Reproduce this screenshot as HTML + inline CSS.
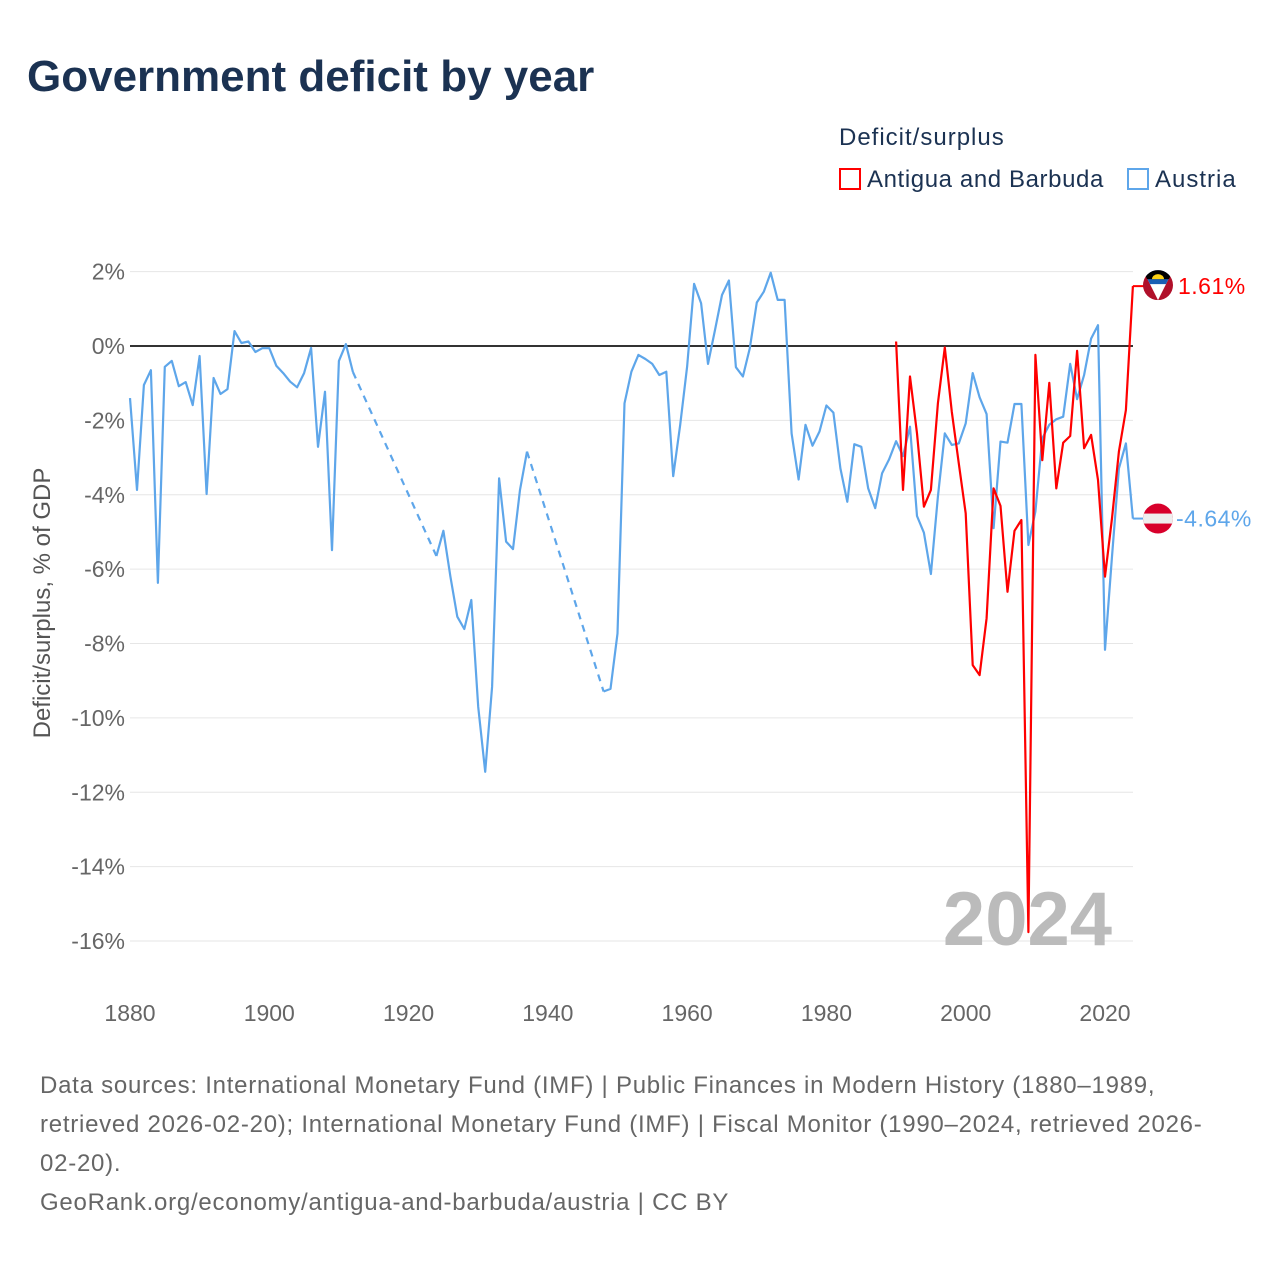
<!DOCTYPE html>
<html><head><meta charset="utf-8">
<style>
body{margin:0;background:#fff;font-family:"Liberation Sans",sans-serif;}
#wrap{position:relative;width:1280px;height:1280px;overflow:hidden;}
.t{position:absolute;white-space:nowrap;}
</style></head>
<body>
<div id="wrap">
<div class="t" style="left:27px;top:52px;font-size:44px;font-weight:bold;color:#1b3252;">Government deficit by year</div>
<div class="t" style="left:839px;top:124px;font-size:24px;color:#1b3252;letter-spacing:1px;">Deficit/surplus</div>
<div class="t" style="left:839px;top:166px;font-size:24px;color:#1b3252;letter-spacing:0.6px;"><span style="display:inline-block;width:22px;height:22px;border:2px solid #f00;box-sizing:border-box;vertical-align:-3px;margin-right:6px;"></span>Antigua and Barbuda</div>
<div class="t" style="left:1127px;top:166px;font-size:24px;color:#1b3252;letter-spacing:1px;"><span style="display:inline-block;width:22px;height:22px;border:2px solid #5ea6ea;box-sizing:border-box;vertical-align:-3px;margin-right:6px;"></span>Austria</div>
<svg id="chart" width="1280" height="1280" style="position:absolute;left:0;top:0;" xmlns="http://www.w3.org/2000/svg"></svg>
<div class="t" style="left:40px;top:1066px;font-size:24px;line-height:39px;color:#666;letter-spacing:0.75px;">Data sources: International Monetary Fund (IMF) | Public Finances in Modern History (1880–1989,<br>retrieved 2026-02-20); International Monetary Fund (IMF) | Fiscal Monitor (1990–2024, retrieved 2026-<br>02-20).<br>GeoRank.org/economy/antigua-and-barbuda/austria | CC BY</div>
</div>
<script>
const yTicks=[2,0,-2,-4,-6,-8,-10,-12,-14,-16];
const xTicks=[1880,1900,1920,1940,1960,1980,2000,2020];
const austriaYears1=[1880,1881,1882,1883,1884,1885,1886,1887,1888,1889,1890,1891,1892,1893,1894,1895,1896,1897,1898,1899,1900,1901,1902,1903,1904,1905,1906,1907,1908,1909,1910,1911,1912];
const austriaVals1=[-1.4,-3.87,-1.05,-0.65,-6.37,-0.56,-0.4,-1.08,-0.97,-1.59,-0.27,-3.98,-0.86,-1.29,-1.16,0.4,0.08,0.12,-0.16,-0.06,-0.06,-0.53,-0.73,-0.96,-1.11,-0.73,-0.05,-2.71,-1.23,-5.49,-0.4,0.05,-0.7];
const austriaYears2=[1924,1925,1926,1927,1928,1929,1930,1931,1932,1933,1934,1935,1936,1937];
const austriaVals2=[-5.65,-4.97,-6.2,-7.28,-7.61,-6.83,-9.7,-11.45,-9.16,-3.56,-5.26,-5.46,-3.87,-2.84];
const austriaYears3=[1948,1949,1950,1951,1952,1953,1954,1955,1956,1957,1958,1959,1960,1961,1962,1963,1964,1965,1966,1967,1968,1969,1970,1971,1972,1973,1974,1975,1976,1977,1978,1979,1980,1981,1982,1983,1984,1985,1986,1987,1988,1989,1990,1991,1992,1993,1994,1995,1996,1997,1998,1999,2000,2001,2002,2003,2004,2005,2006,2007,2008,2009,2010,2011,2012,2013,2014,2015,2016,2017,2018,2019,2020,2021,2022,2023,2024];
const austriaVals3=[-9.29,-9.22,-7.73,-1.54,-0.69,-0.24,-0.35,-0.48,-0.78,-0.69,-3.5,-2.12,-0.56,1.67,1.15,-0.48,0.43,1.37,1.76,-0.57,-0.82,-0.06,1.17,1.46,1.97,1.24,1.24,-2.35,-3.59,-2.12,-2.68,-2.3,-1.6,-1.79,-3.29,-4.19,-2.64,-2.71,-3.83,-4.36,-3.42,-3.05,-2.56,-2.96,-2.17,-4.57,-5.02,-6.13,-4.05,-2.35,-2.66,-2.62,-2.08,-0.73,-1.38,-1.83,-4.9,-2.57,-2.6,-1.56,-1.56,-5.35,-4.45,-2.48,-2.12,-1.97,-1.9,-0.48,-1.43,-0.78,0.2,0.56,-8.17,-5.66,-3.29,-2.62,-4.64];
const antiguaYears=[1990,1991,1992,1993,1994,1995,1996,1997,1998,1999,2000,2001,2002,2003,2004,2005,2006,2007,2008,2009,2010,2011,2012,2013,2014,2015,2016,2017,2018,2019,2020,2021,2022,2023,2024];
const antiguaVals=[0.12,-3.87,-0.82,-2.35,-4.32,-3.87,-1.54,-0.04,-1.77,-3.16,-4.5,-8.58,-8.85,-7.32,-3.83,-4.3,-6.61,-4.97,-4.68,-15.76,-0.24,-3.07,-0.99,-3.83,-2.6,-2.42,-0.13,-2.75,-2.39,-3.6,-6.2,-4.63,-2.84,-1.72,1.61];

const NS="http://www.w3.org/2000/svg";
const svg=document.getElementById('chart');
const X0=130,X1=1133;
function xs(yr){return 130+(yr-1880)*(1105-130)/140;}
function ys(v){return 346-v*37.19;}
function mk(tag,attrs){const e=document.createElementNS(NS,tag);for(const k in attrs)e.setAttribute(k,attrs[k]);svg.appendChild(e);return e;}

yTicks.forEach(t=>{
  const g=mk('line',{x1:X0,x2:X1,y1:ys(t),y2:ys(t),stroke:'#e6e6e6','stroke-width':1});
  
  
  const lb=mk('text',{x:125,y:ys(t)+8,'text-anchor':'end','font-size':23,fill:'#666','font-family':'Liberation Sans, sans-serif'});
  lb.textContent=t+'%';
  
  
});
xTicks.forEach(t=>{
  const lb=mk('text',{x:xs(t),y:1021,'text-anchor':'middle','font-size':23,fill:'#666','font-family':'Liberation Sans, sans-serif'});
  lb.textContent=t;
  
  
});
const zl=mk('line',{x1:X0,x2:X1,y1:ys(0),y2:ys(0),stroke:'#333','stroke-width':2});



const yt=mk('text',{x:0,y:0,transform:'translate(50,603) rotate(-90)','text-anchor':'middle','font-size':24,fill:'#555','font-family':'Liberation Sans, sans-serif'});
yt.textContent='Deficit/surplus, % of GDP';



const wm=mk('text',{x:1112,y:945,'text-anchor':'end','font-size':76,'font-weight':'bold',fill:'#bbb','font-family':'Liberation Sans, sans-serif'});
wm.textContent='2024';



function pts(yrs,vals){return yrs.map((y,i)=>xs(y).toFixed(1)+','+ys(vals[i]).toFixed(1));}
function line(yrs,vals,color,name,dash){
  const p=mk('polyline',{points:pts(yrs,vals).join(' '),fill:'none',stroke:color,'stroke-width':2.2,'stroke-linejoin':'round'});
  if(dash)p.setAttribute('stroke-dasharray','7,6');
  
  
}
const blue='#5ea6ea';
line(austriaYears1,austriaVals1,blue,'austria-line');
line([austriaYears1[austriaYears1.length-1],austriaYears2[0]],[austriaVals1[austriaVals1.length-1],austriaVals2[0]],blue,'austria-gap-dashed',true);
line(austriaYears2,austriaVals2,blue,'austria-line');
line([austriaYears2[austriaYears2.length-1],austriaYears3[0]],[austriaVals2[austriaVals2.length-1],austriaVals3[0]],blue,'austria-gap-dashed',true);
line(austriaYears3,austriaVals3,blue,'austria-line');
line(antiguaYears,antiguaVals,'#ff0000','antigua-line');

const aLast=antiguaVals[antiguaVals.length-1], oLast=austriaVals3[austriaVals3.length-1];
const lastX=xs(2024);
let e;
e=mk('line',{x1:lastX,x2:1145,y1:ys(aLast),y2:ys(aLast),stroke:'#f00','stroke-width':2});


e=mk('line',{x1:lastX,x2:1145,y1:ys(oLast),y2:ys(oLast),stroke:blue,'stroke-width':2});



const ay=ys(aLast)-1;
const g1=document.createElementNS(NS,'g');svg.appendChild(g1);


g1.innerHTML=`<defs><clipPath id="c1"><circle cx="1158" cy="${ay}" r="15"/></clipPath><clipPath id="c2"><circle cx="1158" cy="${ys(oLast)}" r="15"/></clipPath></defs>
<g clip-path="url(#c1)"><rect x="1143" y="${ay-15}" width="30" height="30" fill="#b0102a"/>
<polygon points="1143,${ay-15} 1173,${ay-15} 1158,${ay+15}" fill="#fff"/>
<polygon points="1143,${ay-15} 1173,${ay-15} 1166,${ay-1} 1150,${ay-1}" fill="#1a5fb4"/>
<polygon points="1143,${ay-15} 1173,${ay-15} 1169,${ay-6} 1147,${ay-6}" fill="#000"/>
<path d="M1152,${ay-6} a6,5 0 0 1 12,0 z" fill="#fcd116"/></g>`;
const oy=ys(oLast);
const g2=document.createElementNS(NS,'g');svg.appendChild(g2);


g2.innerHTML=`<g clip-path="url(#c2)"><rect x="1143" y="${oy-15}" width="30" height="30" fill="#d8002b"/><rect x="1143" y="${oy-5}" width="30" height="10" fill="#eee"/></g>`;

e=mk('text',{x:1178,y:ys(aLast)+8,'font-size':23,fill:'#f00','font-family':'Liberation Sans, sans-serif','letter-spacing':'0.5'});
e.textContent=aLast.toFixed(2)+'%';


e=mk('text',{x:1176,y:oy+8,'font-size':23,fill:blue,'font-family':'Liberation Sans, sans-serif','letter-spacing':'0.5'});
e.textContent=oLast.toFixed(2)+'%';


</script>
</body></html>
